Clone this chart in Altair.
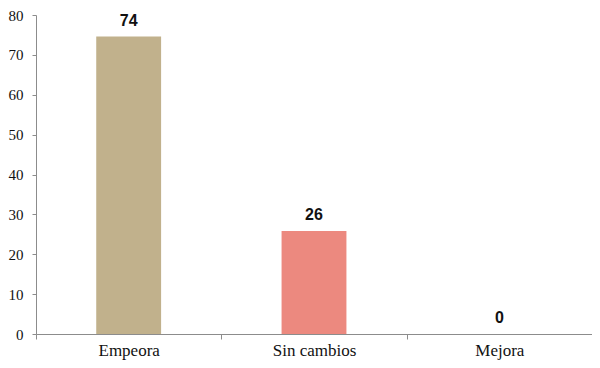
import altair as alt
import pandas as pd

categories = ["Empeora", "Sin cambios", "Mejora"]
values = [74.6, 25.8, 0.0]
labels = ["74", "26", "0"]
colors = ["#C1B18C", "#EC897F", "#A9C6E0"]

df = pd.DataFrame({"cat": categories, "val": values, "lab": labels, "col": colors})

x = alt.X("cat:N", sort=categories, title=None,
          scale=alt.Scale(paddingInner=0, paddingOuter=0),
          axis=alt.Axis(labelAngle=0, labelFont="Liberation Serif", labelFontSize=17,
                        labelColor="#111111", domainColor="#8C8C8C", tickColor="#8C8C8C",
                        tickSize=5, tickBand="extent", labelPadding=3))
y = alt.Y("val:Q", title=None,
          scale=alt.Scale(domain=[0, 80], nice=False),
          axis=alt.Axis(values=list(range(0, 81, 10)), tickCount=20, grid=False,
                        labelFont="Liberation Serif",
                        labelFontSize=15, labelColor="#111111", domainColor="#8C8C8C",
                        tickColor="#8C8C8C", tickSize=4, labelPadding=9,
                        labelOverlap=False, labelFlush=False))

bars = alt.Chart(df).mark_bar(width=alt.RelativeBandSize(0.35)).encode(
    x=x, y=y, color=alt.Color("col:N", scale=None))
text = alt.Chart(df).mark_text(baseline="bottom", dy=-8, font="Liberation Sans",
                               fontSize=16, fontWeight="bold", color="#111111").encode(
    x=alt.X("cat:N", sort=categories), y="val:Q", text="lab:N")

chart = (bars + text).properties(
    width=556, height=319,
    autosize=alt.AutoSizeParams(type="none"),
    padding={"left": 28, "top": 7, "right": 0, "bottom": 26},
).configure_view(stroke=None)

chart.save("out.html", embed_options={"renderer": "svg", "actions": False})
